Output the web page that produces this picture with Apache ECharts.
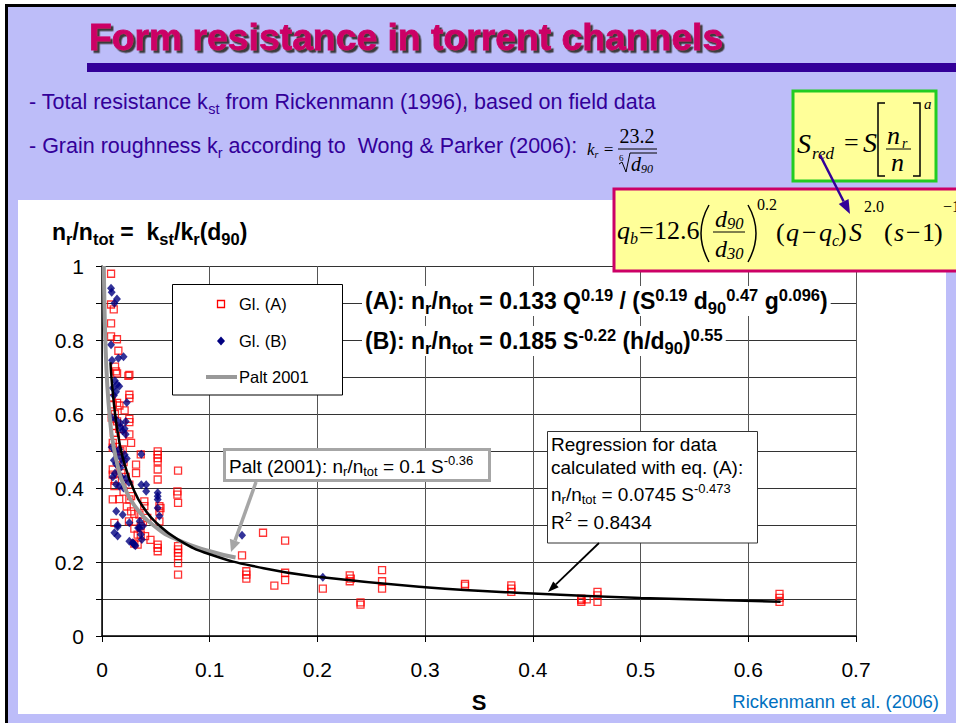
<!DOCTYPE html>
<html><head><meta charset="utf-8">
<script src="https://cdn.jsdelivr.net/npm/echarts/dist/echarts.min.js"></script>
<style>html,body{margin:0;padding:0;background:#fff;overflow:hidden}#c{width:956px;height:723px}</style>
</head><body><div id="c"></div>
<script>
// ---- data ----
const xTickValues = [0, 0.1, 0.2, 0.3, 0.4, 0.5, 0.6, 0.7];
const yTickLabels = ['0', '0.2', '0.4', '0.6', '0.8', '1'];
const seriesNames = ['Gl. (A)', 'Gl. (B)', 'Palt 2001', 'Regression (A)'];

const glA = [
 [0.0084,0.979],[0.0084,0.896],[0.0109,0.883],[0.0084,0.845],[0.0084,0.81],[0.0139,0.802],
 [0.0152,0.771],[0.0121,0.728],[0.013,0.715],[0.014,0.71],[0.0254,0.706],[0.0245,0.703],
 [0.0254,0.652],[0.0254,0.643],[0.009,0.643],[0.0162,0.623],[0.01,0.626],[0.0254,0.587],
 [0.0254,0.578],[0.0115,0.567],[0.011,0.549],[0.0254,0.545],[0.0192,0.54],[0.01,0.522],
 [0.01,0.509],[0.027,0.522],[0.0192,0.504],[0.036,0.491],[0.0517,0.499],[0.0517,0.49],
 [0.0517,0.481],[0.0517,0.472],[0.0316,0.463],[0.0517,0.45],[0.01,0.45],[0.01,0.436],
 [0.0517,0.423],[0.0254,0.409],[0.0115,0.405],[0.0706,0.447],[0.0316,0.44],[0.07,0.391],
 [0.07,0.382],[0.0706,0.36],[0.027,0.378],[0.01,0.369],[0.0254,0.369],[0.0393,0.364],
 [0.0393,0.351],[0.0533,0.351],[0.0543,0.346],[0.0533,0.337],[0.027,0.337],[0.0347,0.328],
 [0.0533,0.31],[0.042,0.319],[0.038,0.31],[0.0115,0.306],[0.036,0.297],[0.0331,0.274],
 [0.036,0.274],[0.0331,0.247],[0.0517,0.247],[0.0517,0.238],[0.0517,0.229],[0.0706,0.243],
 [0.0706,0.234],[0.0706,0.225],[0.0706,0.216],[0.0706,0.197],[0.0706,0.166],
 [0.012,0.60],[0.014,0.58],[0.016,0.56],[0.013,0.53],[0.017,0.50],[0.015,0.48],[0.02,0.47],
 [0.018,0.44],[0.022,0.43],[0.012,0.42],[0.02,0.39],[0.016,0.37],[0.023,0.35],[0.03,0.33],
 [0.025,0.31],[0.03,0.29],[0.04,0.27],[0.045,0.26],[0.03,0.25],[0.014,0.63],[0.021,0.61],[0.009,0.59],
 [0.1495,0.279],[0.170,0.258],[0.130,0.218],[0.134,0.175],[0.134,0.166],[0.134,0.155],
 [0.160,0.136],[0.170,0.171],[0.170,0.151],[0.205,0.128],[0.230,0.164],[0.231,0.155],
 [0.230,0.148],[0.240,0.091],[0.240,0.085],[0.260,0.178],[0.260,0.148],[0.260,0.128],
 [0.337,0.141],[0.337,0.136],[0.380,0.137],[0.380,0.128],[0.380,0.119],[0.445,0.101],
 [0.445,0.097],[0.445,0.092],[0.45,0.099],[0.46,0.119],[0.46,0.110],[0.46,0.092],
 [0.629,0.114],[0.629,0.103],[0.629,0.092]
];
const glB = [
 [0.0084,0.94],[0.009,0.929],[0.0115,0.899],[0.0139,0.911],[0.0084,0.787],[0.0093,0.745],
 [0.0152,0.751],[0.020,0.755],[0.012,0.69],[0.014,0.68],[0.01,0.67],[0.013,0.66],[0.016,0.675],
 [0.011,0.65],[0.023,0.631],[0.009,0.59],[0.013,0.585],[0.017,0.575],[0.022,0.58],[0.017,0.565],
 [0.019,0.555],[0.022,0.545],[0.021,0.56],[0.009,0.51],[0.012,0.50],[0.014,0.49],[0.016,0.505],
 [0.018,0.48],[0.011,0.475],[0.013,0.465],[0.02,0.47],[0.015,0.46],[0.017,0.455],[0.021,0.49],
 [0.023,0.48],[0.01,0.43],[0.013,0.41],[0.016,0.405],[0.022,0.425],[0.02,0.40],[0.025,0.415],
 [0.012,0.44],[0.018,0.43],[0.0365,0.409],[0.041,0.409],[0.041,0.391],[0.0517,0.387],
 [0.0517,0.378],[0.0517,0.369],[0.0517,0.346],[0.0533,0.324],[0.0365,0.491],[0.0132,0.337],
 [0.0192,0.328],[0.0254,0.306],[0.0145,0.30],[0.0145,0.295],[0.0347,0.292],[0.0115,0.279],
 [0.0145,0.27],[0.0254,0.256],[0.0285,0.252],[0.030,0.247],[0.035,0.31],[0.038,0.297],
 [0.0335,0.292],[0.036,0.274],[0.037,0.261],[0.029,0.25],[0.031,0.244],
 [0.130,0.272],[0.205,0.159]
];
const paltCurve = [
 [0.00167,1.0],[0.002,0.937],[0.003,0.809],[0.005,0.674],[0.008,0.569],[0.01,0.525],[0.015,0.454],
 [0.02,0.409],[0.03,0.353],[0.05,0.294],[0.07,0.26],[0.1,0.229],[0.124,0.212]
];
const regCurve = [
 [0.0078,0.74],[0.009,0.691],[0.012,0.604],[0.015,0.543],[0.02,0.474],[0.03,0.391],[0.04,0.341],
 [0.05,0.307],[0.07,0.262],[0.1,0.221],[0.15,0.183],[0.2,0.16],[0.3,0.132],[0.4,0.115],
 [0.5,0.103],[0.63,0.0927]
];

// ---- styling / layout ----
const SANS = '"Liberation Sans", Arial, sans-serif';
const SERIF = '"Liberation Serif", "Times New Roman", serif';
const PURPLE = '#330099';

function T(x, y, text, o) {
  o = o || {};
  const st = Object.assign({
    text: text, x: 0, y: 0, fontFamily: SANS, fontSize: 16, fill: '#000',
    align: 'left', textAlign: 'left', verticalAlign: 'middle', textVerticalAlign: 'middle'
  }, o.style || {});
  if (st.align) st.textAlign = st.align;
  return { type: 'text', x: x, y: y, z: o.z == null ? 60 : o.z, style: st };
}
function R(x, y, w, h, fill, stroke, lw, z) {
  return { type: 'rect', shape: { x: x, y: y, width: w, height: h }, z: z == null ? 55 : z,
    style: { fill: fill, stroke: stroke || null, lineWidth: lw || 0 } };
}
function arrow(x1, y1, x2, y2, color, w, hl, hw, z) {
  const a = Math.atan2(y2 - y1, x2 - x1);
  const bx = x2 - hl * Math.cos(a), by = y2 - hl * Math.sin(a);
  const px = -Math.sin(a) * hw / 2, py = Math.cos(a) * hw / 2;
  return [
    { type: 'line', z: z || 58, shape: { x1: x1, y1: y1, x2: bx, y2: by }, style: { stroke: color, lineWidth: w } },
    { type: 'polygon', z: z || 58, shape: { points: [[x2, y2], [bx + px, by + py], [bx - px, by - py]] }, style: { fill: color } }
  ];
}
function subsup(size, base, ratio) {
  const s = Math.round(size * (ratio || 0.68) * 2) / 2;
  return {
    s: { fontSize: s, lineHeight: s, verticalAlign: 'bottom', fontFamily: base.fontFamily, fontWeight: base.fontWeight, fontStyle: base.fontStyle, fill: base.fill },
    p: { fontSize: s, lineHeight: s, verticalAlign: 'top', fontFamily: base.fontFamily, fontWeight: base.fontWeight, fontStyle: base.fontStyle, fill: base.fill }
  };
}
function RT(x, y, text, size, lh, base, extra, ratio) {
  base = Object.assign({ fontFamily: SANS, fontWeight: 'normal', fontStyle: 'normal', fill: '#000' }, base || {});
  const st = Object.assign({ fontSize: size, lineHeight: lh, rich: subsup(size, base, ratio) }, base, extra || {});
  return T(x, y, text, { style: st, z: 62 });
}

const g = [];
// slide background
g.push(R(8, 7, 948, 716, '#BDBDF9', null, 0, -20));
g.push(R(5, 4, 951, 3, '#000', null, 0, -19));
g.push(R(5, 4, 3, 719, '#000', null, 0, -19));
g.push(R(18, 200, 928, 514, '#FFFFFF', null, 0, -18));
// title with shadow
g.push(T(89, 37, 'Form resistance in torrent channels', { z: 60, style: {
  fontSize: 37.3, fontWeight: 'bold', fill: '#CC0066', stroke: '#CC0066', lineWidth: 0.8,
  textShadowColor: '#3a3a3a', textShadowOffsetX: 2.5, textShadowOffsetY: 2.5, textShadowBlur: 0.6 } }));
g.push(R(87, 63, 869, 9, PURPLE, null, 0, 50));
// bullet lines
g.push(RT(29, 102, '- Total resistance k{s|st} from Rickenmann (1996), based on field data', 21.5, 28, { fill: PURPLE }));
g.push(RT(29, 146, '- Grain roughness k{s|r} according to  Wong & Parker (2006):', 21.5, 28, { fill: PURPLE }));
// k_r formula
g.push(RT(587, 149, 'k{s|r} =', 17, 20, { fontFamily: SERIF, fontStyle: 'italic' }, null, 0.6));
g.push(T(637, 136, '23.2', { style: { fontFamily: SERIF, fontSize: 20, align: 'center' } }));
g.push({ type: 'line', z: 60, shape: { x1: 618, y1: 149, x2: 657, y2: 149 }, style: { stroke: '#000', lineWidth: 1 } });
g.push(T(619, 158, '6', { style: { fontFamily: SERIF, fontSize: 9 } }));
g.push({ type: 'polyline', z: 60, shape: { points: [[619, 164], [622, 162], [626, 172], [630, 153], [657, 153]] }, style: { stroke: '#000', lineWidth: 1, fill: null } });
g.push(RT(631, 164, 'd{s|90}', 20, 22, { fontFamily: SERIF, fontStyle: 'italic' }, null, 0.6));

// green box S_red
g.push(R(793, 91, 143, 90, '#FFFF99', '#22CC22', 3, 52));
g.push(T(797, 143, 'S', { style: { fontFamily: SERIF, fontStyle: 'italic', fontSize: 28 } }));
g.push(T(812, 153, 'red', { style: { fontFamily: SERIF, fontStyle: 'italic', fontSize: 17 } }));
g.push(T(844, 142, '=', { style: { fontFamily: SERIF, fontSize: 26 } }));
g.push(T(863, 142, 'S', { style: { fontFamily: SERIF, fontStyle: 'italic', fontSize: 28 } }));
g.push({ type: 'polyline', z: 60, shape: { points: [[885, 103], [878, 103], [878, 176], [885, 176]] }, style: { stroke: '#000', lineWidth: 1.5, fill: null } });
g.push({ type: 'polyline', z: 60, shape: { points: [[913, 103], [920, 103], [920, 176], [913, 176]] }, style: { stroke: '#000', lineWidth: 1.5, fill: null } });
g.push(T(887, 135, 'n', { style: { fontFamily: SERIF, fontStyle: 'italic', fontSize: 26 } }));
g.push(T(902, 143, 'r', { style: { fontFamily: SERIF, fontStyle: 'italic', fontSize: 14 } }));
g.push({ type: 'line', z: 60, shape: { x1: 886, y1: 149, x2: 911, y2: 149 }, style: { stroke: '#000', lineWidth: 1 } });
g.push(T(891, 162, 'n', { style: { fontFamily: SERIF, fontStyle: 'italic', fontSize: 26 } }));
g.push(T(924, 104, 'a', { style: { fontFamily: SERIF, fontStyle: 'italic', fontSize: 15 } }));

// magenta box q_b
g.push(R(614, 189, 350, 82, '#FFFF99', '#CC0066', 3, 52));
const qf = { fontFamily: SERIF, fontSize: 26 };
const qi = Object.assign({ fontStyle: 'italic' }, qf);
g.push(T(617, 230, 'q', { style: qi }));
g.push(T(630, 238, 'b', { style: { fontFamily: SERIF, fontStyle: 'italic', fontSize: 16 } }));
g.push(T(639, 230, '=', { style: qf }));
g.push(T(654, 230, '12.6', { style: qf }));
g.push({ type: 'bezierCurve', z: 60, shape: { x1: 709, y1: 205, x2: 709, y2: 262, cpx1: 693, cpy1: 233 }, style: { stroke: '#000', lineWidth: 1.5, fill: null } });
g.push({ type: 'bezierCurve', z: 60, shape: { x1: 748, y1: 205, x2: 748, y2: 262, cpx1: 764, cpy1: 233 }, style: { stroke: '#000', lineWidth: 1.5, fill: null } });
g.push(RT(715, 219, 'd{s|90}', 24, 26, { fontFamily: SERIF, fontStyle: 'italic' }));
g.push({ type: 'line', z: 60, shape: { x1: 713, y1: 232, x2: 745, y2: 232 }, style: { stroke: '#000', lineWidth: 1 } });
g.push(RT(715, 249, 'd{s|30}', 24, 26, { fontFamily: SERIF, fontStyle: 'italic' }));
g.push(T(757, 204, '0.2', { style: { fontFamily: SERIF, fontSize: 16 } }));
g.push(T(776, 232, '(', { style: qf }));
g.push(T(786, 232, 'q', { style: qi }));
g.push(T(802, 232, '\u2212', { style: qf }));
g.push(T(819, 232, 'q', { style: qi }));
g.push(T(832, 240, 'c', { style: { fontFamily: SERIF, fontStyle: 'italic', fontSize: 16 } }));
g.push(T(838, 232, ')', { style: qf }));
g.push(T(849, 232, 'S', { style: qi }));
g.push(T(864, 206, '2.0', { style: { fontFamily: SERIF, fontSize: 16 } }));
g.push(T(884, 232, '(', { style: qf }));
g.push(T(894, 232, 's', { style: qi }));
g.push(T(906, 232, '\u2212', { style: qf }));
g.push(T(922, 232, '1', { style: qf }));
g.push(T(934, 232, ')', { style: qf }));
g.push(T(943, 206, '\u22121.6', { style: { fontFamily: SERIF, fontSize: 16 } }));
arrow(820, 155, 850, 214, PURPLE, 2.5, 14, 11, 63).forEach(e => g.push(e));

// chart annotations
g.push(RT(52, 232, 'n{s|r}/n{s|tot} =  k{s|st}/k{s|r}(d{s|90})', 23, 30, { fontWeight: 'bold' }, null, 0.72));
// legend
g.push(R(172.5, 284.5, 170, 110.5, '#FFFFFF', '#000', 1, 55));
g.push({ type: 'rect', z: 60, shape: { x: 217.5, y: 300.5, width: 7, height: 7 }, style: { fill: 'rgba(0,0,0,0)', stroke: '#FF0000', lineWidth: 1.3 } });
g.push({ type: 'polygon', z: 60, shape: { points: [[221, 336.5], [225, 341], [221, 345.5], [217, 341]] }, style: { fill: '#000080' } });
g.push({ type: 'line', z: 60, shape: { x1: 206, y1: 377, x2: 237, y2: 377 }, style: { stroke: '#999999', lineWidth: 4 } });
g.push(T(239, 304, 'Gl. (A)', { style: { fontSize: 16.5 } }));
g.push(T(239, 341, 'Gl. (B)', { style: { fontSize: 16.5 } }));
g.push(T(239, 377, 'Palt 2001', { style: { fontSize: 16.5 } }));
// equations A, B
g.push(RT(362, 301, '(A): n{s|r}/n{s|tot} = 0.133 Q{p|0.19} / (S{p|0.19} d{s|90}{p|0.47} g{p|0.096})', 23, 30, { fontWeight: 'bold' }, { backgroundColor: '#FFFFFF', padding: [0, 3, 0, 3] }, 0.72));
g.push(RT(362, 341, '(B): n{s|r}/n{s|tot} = 0.185 S{p|-0.22} (h/d{s|90}){p|0.55}', 23, 30, { fontWeight: 'bold' }, { backgroundColor: '#FFFFFF', padding: [0, 3, 0, 3] }, 0.72));
// Palt callout
g.push(R(224.5, 449.5, 265, 31, '#FFFFFF', '#A6A6A6', 3, 55));
g.push(RT(229, 466, 'Palt (2001): n{s|r}/n{s|tot} = 0.1 S{p|-0.36}', 19, 24, {}));
arrow(256, 482, 231, 552, '#A6A6A6', 3.5, 12, 11).forEach(e => g.push(e));
// regression callout
g.push(R(547.5, 431.5, 210, 111.5, '#FFFFFF', '#333333', 1, 55));
g.push(RT(551, 444, 'Regression for data', 19, 24, {}));
g.push(RT(551, 467, 'calculated with eq. (A):', 19, 24, {}));
g.push(RT(551, 494, 'n{s|r}/n{s|tot} = 0.0745 S{p|-0.473}', 19, 24, {}));
g.push(RT(551, 522, 'R{p|2} = 0.8434', 19, 24, {}));
arrow(599, 543, 548, 592, '#000', 1.8, 11, 8).forEach(e => g.push(e));
// source
g.push(T(939, 701, 'Rickenmann et al. (2006)', { style: { fontSize: 18.5, fill: '#0070C0', align: 'right' } }));

const chart = echarts.init(document.getElementById('c'), null, { renderer: 'svg' });
chart.setOption({
  backgroundColor: 'rgba(0,0,0,0)',
  animation: false,
  grid: { left: 102, top: 266, width: 754, height: 370, containLabel: false },
  xAxis: {
    type: 'value', min: 0, max: 0.7, interval: 0.1,
    name: 'S', nameLocation: 'middle', nameGap: 55,
    nameTextStyle: { fontFamily: SANS, fontSize: 22, fontWeight: 'bold', color: '#000' },
    axisLine: { show: true, onZero: false, lineStyle: { color: '#000', width: 1.5 } },
    axisTick: { show: true, length: 6, lineStyle: { color: '#000' } },
    axisLabel: { margin: 23, fontFamily: SANS, fontSize: 21, color: '#000',
      formatter: v => { const i = xTickValues.findIndex(t => Math.abs(t - v) < 1e-6); return i >= 0 ? String(xTickValues[i]) : ''; } },
    splitLine: { show: true, lineStyle: { color: '#555', width: 1 } }
  },
  yAxis: {
    type: 'value', min: 0, max: 1, interval: 0.1,
    axisLine: { show: true, onZero: false, lineStyle: { color: '#000', width: 1.5 } },
    axisTick: { show: true, length: 6, lineStyle: { color: '#000' } },
    axisLabel: { margin: 18, fontFamily: SANS, fontSize: 21, color: '#000',
      formatter: v => { const k = Math.round(v * 10); return k % 2 === 0 ? yTickLabels[k / 2] : ''; } },
    splitLine: { show: true, lineStyle: { color: '#333', width: 1 } }
  },
  series: [
    { name: seriesNames[0], type: 'scatter', data: glA, symbol: 'rect', symbolSize: 7, z: 3,
      itemStyle: { color: 'rgba(255,255,255,0)', borderColor: '#FF0000', borderWidth: 1.3 } },
    { name: seriesNames[1], type: 'scatter', data: glB, symbol: 'diamond', symbolSize: [8, 9], z: 4,
      itemStyle: { color: '#000080' } },
    { name: seriesNames[2], type: 'line', data: paltCurve, smooth: true, symbol: 'none', z: 5,
      lineStyle: { color: '#999999', width: 4 } },
    { name: seriesNames[3], type: 'line', data: regCurve, smooth: true, symbol: 'none', z: 6,
      lineStyle: { color: '#000', width: 2.5 } }
  ],
  graphic: { elements: g }
});
</script></body></html>
